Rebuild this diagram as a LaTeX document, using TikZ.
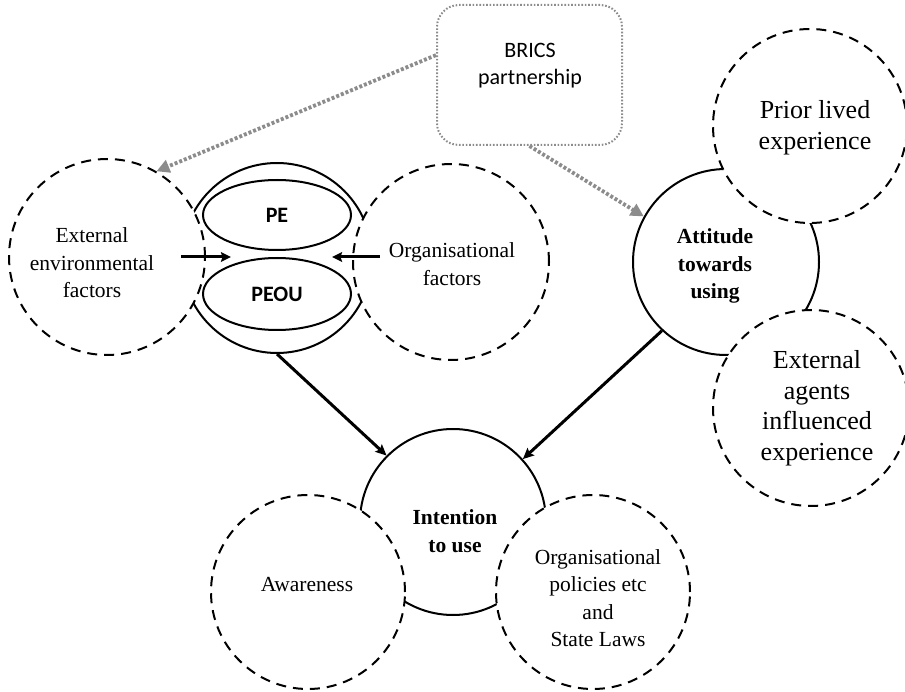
\documentclass[tikz,border=0pt]{standalone}
\usepackage{fontspec}
\setmainfont{Liberation Serif}
\newfontfamily\calibri{Carlito}
\usetikzlibrary{shapes.geometric,arrows.meta}
\definecolor{dotgray}{HTML}{8C8C8C}

\begin{document}
\begin{tikzpicture}[x=1pt, y=-1pt,
  font=\fontsize{21.5}{27.5}\selectfont,
  ring/.style={circle, draw, line width=2pt, inner sep=0pt},
  dring/.style={circle, draw, fill=white, line width=2pt, dash pattern=on 10pt off 7pt, inner sep=0pt},
  oval/.style={ellipse, draw, line width=2pt, minimum width=148pt, minimum height=70pt,
    font=\calibri\bfseries\fontsize{22}{26}\selectfont},
  txt/.style={align=center},
  bigtxt/.style={align=center, font=\fontsize{26}{30.5}\selectfont},
  boldtxt/.style={align=center, font=\bfseries\fontsize{21.5}{27.5}\selectfont},
  arr/.style={-{Stealth[length=11pt,width=10pt,inset=2pt]}, line width=3pt},
  sarr/.style={-{Stealth[length=10pt,width=9.5pt,inset=1.5pt]}, line width=3pt},
  garr/.style={-{Triangle[length=13pt,width=13pt]}, dotgray, line width=3.8pt, dash pattern=on 3pt off 2pt}]
  \useasboundingbox (0,0) rectangle (905,692);
  % solid rings
  \node[ring, minimum size=190pt] (box) at (277,258) {};
  \node[ring, minimum size=186pt] (attitude) at (726,262) {};
  \node[ring, minimum size=186pt] (intent) at (453,522) {};
  % dashed rings, white filled so they cut the solid ones
  \node[dring, minimum size=196pt] (env) at (107,257) {};
  \node[dring, minimum size=196pt] (org) at (451,262) {};
  \node[dring, minimum size=194pt] (prior) at (810,126) {};
  \node[dring, minimum size=196pt] (agents) at (811,408) {};
  \node[dring, minimum size=194pt] (aware) at (308,592) {};
  \node[dring, minimum size=194pt] (policy) at (593,592) {};
  % PE and PEOU
  \node[oval] (pe) at (277,215) {PE};
  \node[oval, minimum height=72pt] (peou) at (277,294) {PEOU};
  % BRICS box
  \node[draw=dotgray, line width=2pt, dash pattern=on 1.6pt off 1.8pt, rounded corners=22pt,
    minimum width=185pt, minimum height=140pt] (brics) at (529.5,75) {};
  \node[txt, font=\calibri\fontsize{22}{27}\selectfont] (bricstxt) at (530,66) {BRICS\\partnership};
  % labels
  \node[txt] (envtxt) at (92,263) {External\\environmental\\factors};
  \node[txt] (orgtxt) at (452,264) {Organisational\\factors};
  \node[bigtxt] (priortxt) at (815,128) {Prior lived\\experience};
  \node[bigtxt] (agentstxt) at (817,408) {External\\agents\\influenced\\experience};
  \node[boldtxt] (attxt) at (715,266) {Attitude\\towards\\using};
  \node[boldtxt] (inttxt) at (455,531) {Intention\\to use};
  \node[txt] (awaretxt) at (307,585) {Awareness};
  \node[txt] (policytxt) at (598,598) {Organisational\\policies etc\\and\\State Laws};
  % arrows
  \draw[sarr] ([xshift=-25pt]env.east) -- ([xshift=25pt]env.east);
  \draw[sarr] ([xshift=28pt,yshift=5pt]org.west) -- ([xshift=-20pt,yshift=5pt]org.west);
  \draw[arr] (box.south) -- (intent.135);
  \draw[arr] (attitude.227) -- (intent.42);
  \draw[garr] (brics.168) -- (env.60);
  \draw[garr] (brics.south) -- (attitude.151);
\end{tikzpicture}
\end{document}
